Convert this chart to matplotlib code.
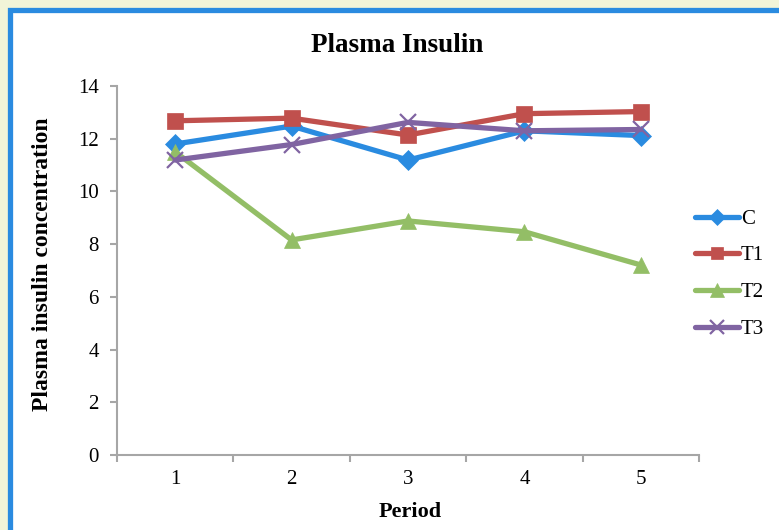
import matplotlib.pyplot as plt
from matplotlib.patches import Rectangle

periods = [1, 2, 3, 4, 5]
c_vals = [11.8, 12.48, 11.19, 12.3, 12.12]
t1_vals = [12.68, 12.78, 12.14, 12.95, 13.03]
t2_vals = [11.5, 8.16, 8.88, 8.47, 7.21]
t3_vals = [11.19, 11.78, 12.62, 12.3, 12.35]

plt.rcParams['font.family'] = ['Liberation Serif', 'DejaVu Serif']

fig = plt.figure(figsize=(7.79, 5.30), dpi=100)
fig.patch.set_facecolor('#F2F4D8')

# white panel with blue border
W, H = 779, 530
fig.patches.append(Rectangle((10 / W, -20 / H), 800 / W, 540 / H, transform=fig.transFigure,
                             facecolor='white', edgecolor='#2A8BE0', linewidth=3.8, zorder=0))

ax = fig.add_axes([117 / W, 1 - 455 / H, 582 / W, 369 / H])
ax.set_zorder(2)
ax.set_facecolor('none')

series = [
    ('C', c_vals, '#2A8BE0', 'D', 10),
    ('T1', t1_vals, '#C0504D', 's', 11),
    ('T2', t2_vals, '#93BE66', '^', 12),
    ('T3', t3_vals, '#8064A2', 'x', 12),
]
for name, vals, col, mk, ms in series:
    ax.plot(periods, vals, color=col, lw=3.8, marker=mk, markersize=ms,
            markeredgewidth=1.6 if mk == 'x' else 0.5, markeredgecolor=col,
            label=name, solid_capstyle='round')

ax.set_xlim(0.5, 5.5)
ax.set_ylim(0, 14)
ax.set_yticks(range(0, 15, 2))
ax.set_xticks([0.5, 1.5, 2.5, 3.5, 4.5, 5.5])
ax.set_xticklabels([])
ax.set_xticks(periods, minor=True)
ax.set_xticklabels([str(p) for p in periods], minor=True)
ax.tick_params(axis='x', which='minor', length=0, pad=11, labelsize=15)
ax.tick_params(axis='x', which='major', length=5, color='#A6A6A6', width=1.5)
ax.tick_params(axis='y', length=5, color='#A6A6A6', width=1.5, labelsize=15, pad=8)

for s in ['top', 'right']:
    ax.spines[s].set_visible(False)
for s in ['left', 'bottom']:
    ax.spines[s].set_color('#A6A6A6')
    ax.spines[s].set_linewidth(1.5)

fig.text(397 / W, 1 - 46 / H, 'Plasma Insulin', ha='center', va='center',
         fontsize=19.5, fontweight='bold')
fig.text(43 / W, 1 - 264 / H, 'Plasma insulin concentration', ha='center', va='center',
         rotation=90, fontsize=17, fontweight='bold')
fig.text(410 / W, 1 - 512 / H, 'Period', ha='center', va='center',
         fontsize=16, fontweight='bold')

fig.legend(loc='center left', bbox_to_anchor=(695 / W, 1 - 274 / H), frameon=False,
           fontsize=15, handlelength=2.1, handletextpad=0.1, labelspacing=0.82,
           markerscale=0.8, borderaxespad=0, borderpad=0)

fig.savefig('out.png', dpi=100, facecolor=fig.get_facecolor())
